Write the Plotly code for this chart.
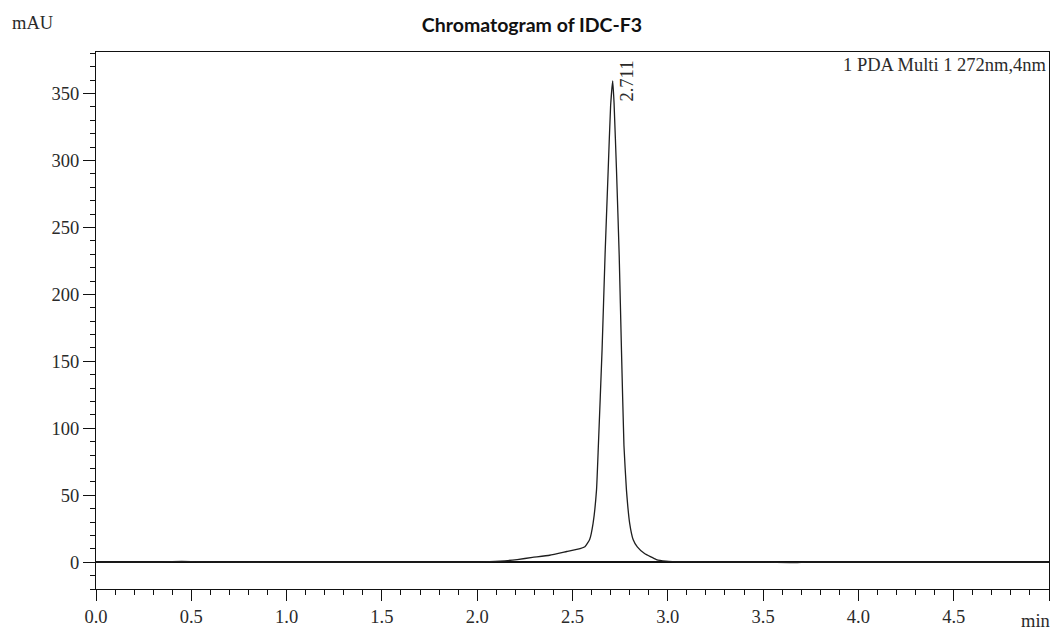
import plotly.graph_objects as go

# Retention time (min) and absorbance (mAU)
time_min = [0.0, 0.30, 0.45, 0.65, 1.0, 1.5, 2.0, 2.12, 2.21, 2.29, 2.38, 2.47, 2.54,
            2.565, 2.59, 2.608, 2.626, 2.636, 2.655, 2.671, 2.687, 2.700, 2.711,
            2.718, 2.731, 2.745, 2.757, 2.770, 2.783, 2.800, 2.818, 2.840, 2.878,
            2.940, 2.990, 3.08, 3.5, 3.64, 3.68, 3.73, 4.0, 4.5, 5.0]
absorbance_mau = [0.0, 0.0, 0.6, 0.0, 0.0, 0.0, 0.1, 0.8, 2.0, 3.6, 5.2, 8.0, 10.2,
                  11.6, 17.0, 29.0, 54.0, 88.0, 158.0, 230.0, 292.0, 341.0, 359.5,
                  343.0, 292.0, 229.0, 158.0, 87.0, 54.0, 29.0, 17.0, 11.5, 6.5,
                  2.0, 0.8, 0.2, 0.0, -0.3, -0.3, 0.0, 0.0, 0.0, 0.0]

peak_rt = 2.711
peak_height = 359.5
peak_label = "2.711"

title_text = "Chromatogram of IDC-F3"
detector_text = "1 PDA Multi 1 272nm,4nm"
y_unit = "mAU"
x_unit = "min"

x_tickvals = [0.0, 0.5, 1.0, 1.5, 2.0, 2.5, 3.0, 3.5, 4.0, 4.5, 5.0]
x_ticktext = ["0.0", "0.5", "1.0", "1.5", "2.0", "2.5", "3.0", "3.5", "4.0", "4.5", ""]
y_tickvals = [0, 50, 100, 150, 200, 250, 300, 350]
y_ticktext = ["0", "50", "100", "150", "200", "250", "300", "350"]

serif = "Liberation Serif"
txt_col = "#2a2a2a"
fsize = 18.5

fig = go.Figure()
fig.add_trace(go.Scatter(
    x=time_min, y=absorbance_mau, mode="lines",
    line=dict(color="#1e1e1e", width=1.3, shape="spline", smoothing=0.4),
    showlegend=False, hoverinfo="skip",
))

fig.update_layout(
    width=1053, height=641,
    margin=dict(l=96, r=4, t=52, b=52, autoexpand=False),
    paper_bgcolor="white", plot_bgcolor="white",
    title=dict(text=f"<b>{title_text}</b>", x=0.5052, xref="container", xanchor="center",
               y=0.961, yref="container", yanchor="middle",
               font=dict(family="Lato", size=19.5, color="#111")),
    font=dict(family=serif, size=fsize, color=txt_col),
)

fig.update_xaxes(
    range=[0, 5.0], showgrid=False, zeroline=False,
    showline=True, linecolor="#111", linewidth=1.3, mirror=True,
    tickmode="array", tickvals=x_tickvals, ticktext=x_ticktext,
    ticks="outside", ticklen=11, tickwidth=1.3, tickcolor="#111",
    minor=dict(dtick=0.1, tick0=0, ticks="outside", ticklen=5, tickwidth=1.2, tickcolor="#111"),
    tickfont=dict(family=serif, size=fsize, color=txt_col),
)
fig.update_yaxes(
    range=[-20, 381], showgrid=False,
    zeroline=True, zerolinecolor="#111", zerolinewidth=1.5,
    showline=True, linecolor="#111", linewidth=1.3, mirror=True,
    tickmode="array", tickvals=y_tickvals, ticktext=y_ticktext,
    ticks="outside", ticklen=12, tickwidth=1.3, tickcolor="#111",
    minor=dict(dtick=10, tick0=0, ticks="outside", ticklen=5, tickwidth=1.2, tickcolor="#111"),
    tickfont=dict(family=serif, size=fsize, color=txt_col),
    ticklabelstandoff=0,
)

fig.add_annotation(x=peak_rt, y=peak_height, text=peak_label, textangle=-90,
                   showarrow=False, xanchor="center", yanchor="middle",
                   xshift=14, yshift=0,
                   font=dict(family=serif, size=fsize, color=txt_col))
fig.add_annotation(x=1.0, xref="paper", y=0.9758, yref="paper", text=detector_text,
                   showarrow=False, xanchor="right", yanchor="middle",
                   font=dict(family=serif, size=fsize, color=txt_col))
fig.add_annotation(x=-0.0668, xref="paper", y=1.054, yref="paper", text=y_unit,
                   showarrow=False, xanchor="center", yanchor="middle",
                   font=dict(family=serif, size=fsize, color=txt_col))
fig.add_annotation(x=0.9863, xref="paper", y=-0.0596, yref="paper", text=x_unit,
                   showarrow=False, xanchor="center", yanchor="middle",
                   font=dict(family=serif, size=fsize, color=txt_col))

# remove the page's default body margin so the figure fills the window exactly
fig.write_html(
    "out.html",
    config={"displayModeBar": False},
    post_script="document.body.style.margin='0';document.body.style.overflow='hidden';",
)
